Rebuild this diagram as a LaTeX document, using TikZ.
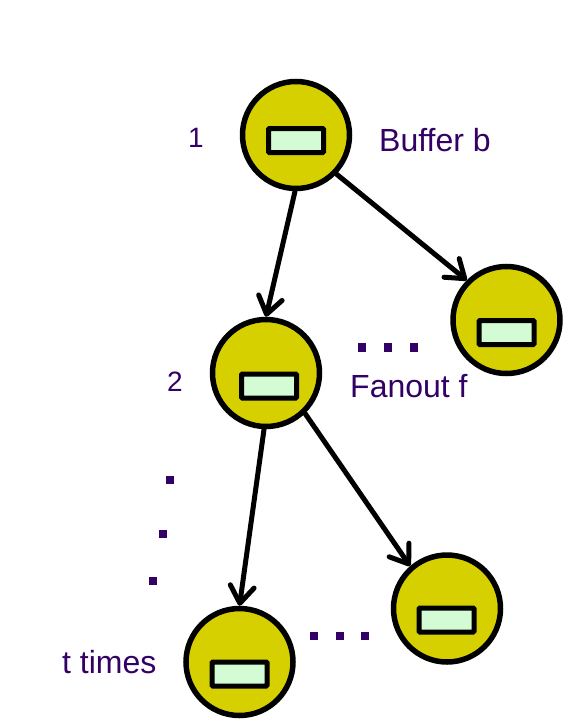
\documentclass[tikz,border=0pt]{standalone}
\usepackage{fontspec}
\setmainfont{Liberation Sans}
\usetikzlibrary{arrows.meta}
\definecolor{nodefill}{RGB}{214,208,0}
\definecolor{buffill}{RGB}{212,252,212}
\definecolor{txt}{RGB}{51,0,102}
\begin{document}
\begin{tikzpicture}[x=1pt,y=-1pt,
  proc/.style={circle,draw=black,line width=5.5pt,fill=nodefill,minimum size=107pt,inner sep=0pt},
  buf/.style={rectangle,draw=black,line width=5pt,fill=buffill,minimum width=55pt,minimum height=24pt,inner sep=0pt,rounded corners=1pt},
  lbl/.style={text=txt,font=\fontsize{32}{36}\selectfont,inner sep=0pt,anchor=base west},
  num/.style={lbl,font=\fontsize{28}{32}\selectfont},
  dotsq/.style={rectangle,fill=txt,minimum size=8.5pt,inner sep=0pt},
  edge/.style={line width=5pt,line cap=round,-{Straight Barb[length=17pt,width=24pt,line cap=round,line join=round]}}]
\useasboundingbox (0,0) rectangle (573,725);
% process nodes
\node[proc] (n1) at (296,135) {};
\node[proc] (tr) at (506.5,320) {};
\node[proc] (n2) at (266,373) {};
\node[proc] (rb) at (447,608.5) {};
\node[proc] (bt) at (239.5,662) {};
% buffers
\node[buf] (b1) at (296,140.5) {};
\node[buf] (btr) at (506.5,332.5) {};
\node[buf] (b2) at (269,386) {};
\node[buf] (brb) at (446.5,620) {};
\node[buf] (bbt) at (239.5,674) {};
% connectors
\draw[edge] (n1.-91) -- (n2.90);
\draw[edge] (n1.-44) -- (tr.135);
\draw[edge] (n2.-92) -- (bt.90);
\draw[edge] (n2.-46) -- (rb.131);
% labels
\node[num] (l1) at (188,147) {1};
\node[lbl] (lbuf) at (379,151) {Buffer b};
\node[num] (l2) at (167,391) {2};
\node[lbl] (lfan) at (350,397) {Fanout f};
\node[lbl] (lt) at (62,673) {t times};
% dots
\node[dotsq] (d1) at (362,347.5) {};
\node[dotsq] (d2) at (388,347.5) {};
\node[dotsq] (d3) at (414,347.5) {};
\node[dotsq] (v1) at (170,480) {};
\node[dotsq] (v2) at (163,534) {};
\node[dotsq] (v3) at (153,581) {};
\node[dotsq] (e1) at (314,636) {};
\node[dotsq] (e2) at (340,636) {};
\node[dotsq] (e3) at (365,636) {};
\end{tikzpicture}
\end{document}
